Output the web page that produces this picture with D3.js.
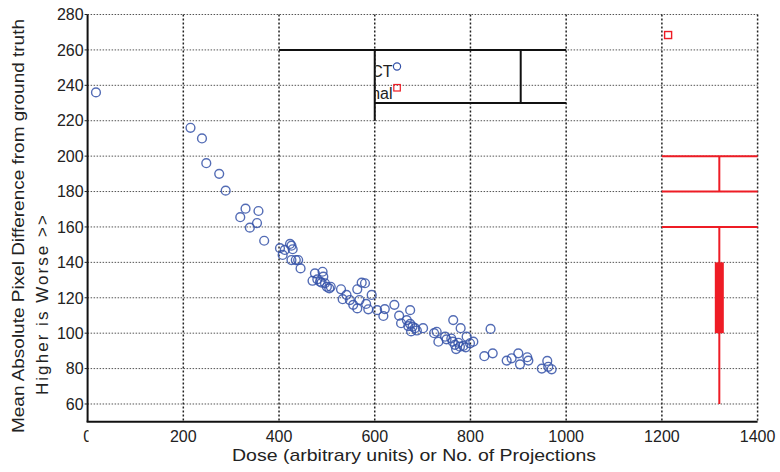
<!DOCTYPE html>
<html>
<head>
<meta charset="utf-8">
<script src="https://cdn.jsdelivr.net/npm/d3@7.9.0/dist/d3.min.js"></script>
<style>
  body { margin: 0; background: #fff; }
  text { font-family: "Liberation Sans", Arial, sans-serif; fill: #222; }
</style>
</head>
<body>
<svg id="chart" width="780" height="472"></svg>
<script>
// scatter: dose vs mean absolute pixel difference
const dose = [17.5, 215, 239, 248, 275, 288.5, 330, 319, 357, 339, 354, 369,
  402, 407.6, 423, 426, 412, 428.5, 426, 435, 440, 445,
  475, 491, 470, 480, 492.5, 489, 500, 505, 508, 485.6, 496,
  529.5, 541, 533, 548, 563.5, 572.7, 579.6, 568, 555, 563.5, 582, 586.5, 593.6,
  605, 618, 621, 641, 651, 655, 674, 667, 674, 679, 684, 688, 676, 670,
  701, 724, 729.4, 733, 747, 750, 764, 779.5, 763, 767.6, 774.6, 778, 785,
  792, 799, 806, 770, 790, 760,
  842, 829, 846.5, 875.7, 886, 900, 903.5, 918.7, 921, 960.5, 949, 962.6, 969.7];
const error = [236, 216, 210, 196, 190, 180.5, 170.3, 165.5, 169, 159.6, 162.2, 152.2,
  148, 144.2, 150.4, 149.4, 147, 147.4, 141.3, 141.3, 141.3, 136.6,
  133.8, 134.7, 129.6, 130.4, 131.9, 128.5, 126.2, 125.3, 126.2, 129.1, 128.2,
  124.8, 121.6, 119.2, 118.7, 124.8, 128.5, 128.2, 118.7, 116, 114, 116.5, 113.5, 121.6,
  113, 109.7, 113.6, 116, 109.9, 105.6, 113, 107.4, 105.2, 103.7, 102.8, 101.5, 101, 104,
  102.8, 100, 100.8, 95.2, 98, 96.5, 107.4, 102.8, 95.2, 93.4, 94.6, 92.4, 92.8,
  98, 94.3, 95.2, 91, 92, 97,
  102.4, 87, 88.6, 84.5, 85.8, 88.6, 82.4, 86.4, 84.5, 84.3, 80, 81, 79.6];

// red square point
const optimalDose = [1213];
const optimalError = [268.4];

// red box-style marks at the right
const redHLines = [200, 180, 160];
const redHSpan = [1200, 1400];
const redCenter = 1320;
const redStem = [[200, 180], [160, 60]];
const redBox = [100, 140];

// black legend frame lines [x1, y1, x2, y2] in data units
const frameLines = [
  [400, 260, 1000, 260],
  [600, 230, 1000, 230],
  [600, 260, 600, 220],
  [905, 260, 905, 230]
];
const legendLabels = ['Conventional CT', 'Proposed Optimal'];

const xTicks = [0, 200, 400, 600, 800, 1000, 1200, 1400];
const yTicks = [60, 80, 100, 120, 140, 160, 180, 200, 220, 240, 260, 280];

const svg = d3.select('#chart');
const x = d3.scaleLinear().domain([0, 1400]).range([87.6, 757.6]);
const y = d3.scaleLinear().domain([50, 280]).range([421.7, 14.5]);

const blue = '#3552a8';
const red = '#ee1c25';

// grid
svg.append('g').selectAll('line').data(yTicks).join('line')
  .attr('x1', x(0)).attr('x2', x(1400))
  .attr('y1', d => y(d)).attr('y2', d => y(d))
  .attr('stroke', '#555').attr('stroke-width', 1).attr('stroke-dasharray', '1.5,1.5');
svg.append('g').selectAll('line').data(xTicks.slice(1)).join('line')
  .attr('x1', d => x(d)).attr('x2', d => x(d))
  .attr('y1', y(280)).attr('y2', y(50))
  .attr('stroke', '#222').attr('stroke-width', 1.5).attr('stroke-dasharray', '2,2');

// axes
svg.append('line').attr('x1', x(0)).attr('x2', x(0)).attr('y1', y(280)).attr('y2', y(50))
  .attr('stroke', '#111').attr('stroke-width', 2);
svg.append('line').attr('x1', x(0) - 1).attr('x2', x(1400)).attr('y1', y(50)).attr('y2', y(50))
  .attr('stroke', '#111').attr('stroke-width', 2);

svg.append('g').selectAll('line').data(yTicks).join('line')
  .attr('x1', x(0) - 3).attr('x2', x(0)).attr('y1', d => y(d)).attr('y2', d => y(d))
  .attr('stroke', '#222').attr('stroke-width', 1);

svg.append('g').selectAll('text').data(yTicks).join('text')
  .attr('x', x(0) - 4).attr('y', d => y(d)).attr('dy', '0.36em')
  .attr('text-anchor', 'end').attr('font-size', 16).text(d => d);

svg.append('clipPath').attr('id', 'zeroclip').append('rect')
  .attr('x', 0).attr('y', 420).attr('width', x(0) + 1).attr('height', 40);
svg.append('g').selectAll('text').data(xTicks).join('text')
  .attr('x', d => x(d)).attr('y', 442)
  .attr('text-anchor', 'middle').attr('font-size', 16)
  .attr('clip-path', d => d === 0 ? 'url(#zeroclip)' : null)
  .text(d => d);

svg.append('text').attr('x', 232).attr('y', 461)
  .attr('font-size', 17).attr('textLength', 364).attr('lengthAdjust', 'spacingAndGlyphs')
  .text('Dose (arbitrary units) or No. of Projections');

svg.append('text').attr('transform', 'translate(24,433) rotate(-90)')
  .attr('font-size', 17).attr('textLength', 414).attr('lengthAdjust', 'spacingAndGlyphs')
  .text('Mean Absolute Pixel Difference from ground truth');
svg.append('text').attr('transform', 'translate(48,395) rotate(-90)')
  .attr('font-size', 17).attr('textLength', 180).attr('lengthAdjust', 'spacing')
  .text('Higher is Worse >>');

// red marks
svg.append('g').selectAll('line').data(redHLines).join('line')
  .attr('x1', x(redHSpan[0])).attr('x2', x(redHSpan[1]))
  .attr('y1', d => y(d)).attr('y2', d => y(d))
  .attr('stroke', red).attr('stroke-width', 2);
svg.append('g').selectAll('line').data(redStem).join('line')
  .attr('x1', x(redCenter)).attr('x2', x(redCenter))
  .attr('y1', d => y(d[0])).attr('y2', d => y(d[1]))
  .attr('stroke', red).attr('stroke-width', 2);
svg.append('rect')
  .attr('x', x(redCenter) - 4.5).attr('width', 9)
  .attr('y', y(redBox[1])).attr('height', y(redBox[0]) - y(redBox[1]))
  .attr('fill', red);

// scatter
svg.append('g').selectAll('circle').data(dose).join('circle')
  .attr('cx', d => x(d)).attr('cy', (d, i) => y(error[i])).attr('r', 4.4)
  .attr('fill', 'none').attr('stroke', blue).attr('stroke-width', 1.4)
  .attr('stroke-opacity', 0.85);

svg.append('g').selectAll('rect').data(optimalDose).join('rect')
  .attr('x', d => x(d) - 3.5).attr('y', (d, i) => y(optimalError[i]) - 3.5)
  .attr('width', 7).attr('height', 7)
  .attr('fill', 'none').attr('stroke', red).attr('stroke-width', 1.4);

// legend frame
svg.append('g').selectAll('line').data(frameLines).join('line')
  .attr('x1', d => x(d[0])).attr('y1', d => y(d[1]))
  .attr('x2', d => x(d[2])).attr('y2', d => y(d[3]))
  .attr('stroke', '#111').attr('stroke-width', 2);

svg.append('clipPath').attr('id', 'legclip').append('rect')
  .attr('x', x(600) + 1).attr('y', y(260)).attr('width', 200).attr('height', 60);
const leg = svg.append('g').attr('clip-path', 'url(#legclip)');
leg.selectAll('text').data(legendLabels).join('text')
  .attr('x', 392.5).attr('y', (d, i) => 77 + i * 22)
  .attr('text-anchor', 'end').attr('font-size', 16).text(d => d);
svg.append('circle').attr('cx', 397).attr('cy', 66.5).attr('r', 3.6)
  .attr('fill', 'none').attr('stroke', blue).attr('stroke-width', 1.2);
svg.append('rect').attr('x', 393.8).attr('y', 84.5).attr('width', 6.5).attr('height', 6.5)
  .attr('fill', 'none').attr('stroke', red).attr('stroke-width', 1.2);
</script>
</body>
</html>
